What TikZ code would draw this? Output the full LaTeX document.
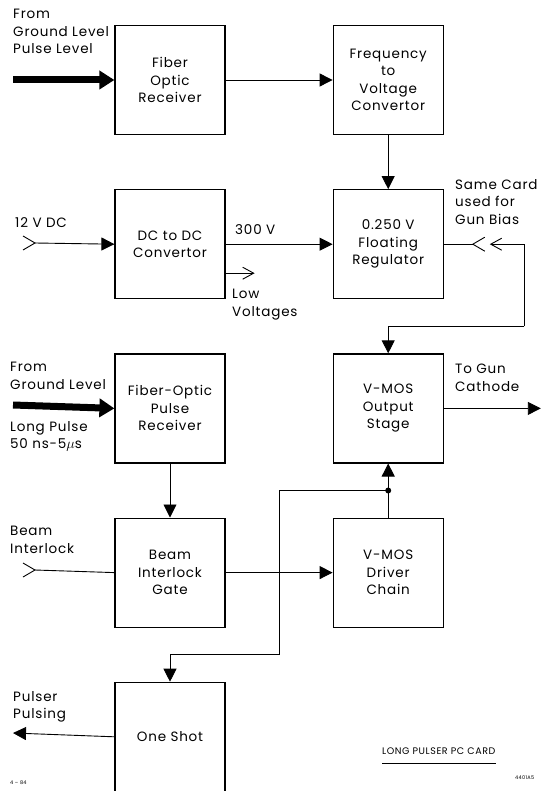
\documentclass[tikz,border=0pt]{standalone}
\usepackage{fontspec}
\setmainfont{Poppins}[LetterSpace=6]
\usetikzlibrary{arrows.meta, positioning, calc}

\tikzset{
    socket/.pic={\draw[line width=0.9pt, line join=miter] (12,-7) -- (0,0) -- (12,7);}
}

\begin{document}
\begin{tikzpicture}[
    x=1pt, y=-1pt,
    node distance=54pt and 107pt,
    font=\fontsize{13.5}{17.5}\selectfont,
    blk/.style={
        rectangle, draw, line width=1.2pt,
        minimum width=110pt, minimum height=109pt,
        align=center, inner sep=2pt
    },
    arr/.style={-{Triangle[length=13pt,width=13pt]}, line width=0.9pt},
    fat/.style={-{Triangle[length=15pt,width=18pt]}, line width=7pt},
    barb/.style={-{Straight Barb[length=11pt,width=12pt]}, line width=0.9pt},
    wire/.style={line width=0.9pt},
    lbl/.style={anchor=north west, align=left, inner sep=0pt},
]
\useasboundingbox (0,0) rectangle (546,791);

% left column
\node[blk] (fibrx) at (170,80) {Fiber\\Optic\\Receiver};
\node[blk, below=of fibrx] (dcdc) {DC to DC\\Convertor};
\node[blk, below=of dcdc] (fopr) {Fiber-Optic\\Pulse\\Receiver};
\node[blk, below=of fopr] (gate) {Beam\\Interlock\\Gate};
\node[blk, below=of gate] (oneshot) {One Shot};

% right column
\node[blk, right=of fibrx] (fvconv) {Frequency\\to\\Voltage\\Convertor};
\node[blk, right=of dcdc] (floatreg) {0.250 V\\Floating\\Regulator};
\node[blk, right=of fopr] (vmosout) {V-MOS\\Output\\Stage};
\node[blk, right=of gate] (driver) {V-MOS\\Driver\\Chain};

% free ends
\coordinate (pulsein) at (13,80);
\coordinate (dcin) at (35,243);
\coordinate (longin) at (13,405);
\coordinate (beamin) at (35,570);
\coordinate (pulsout) at (13,733);
\coordinate (lowv) at ($(dcdc.east)+(0,29)$);
\coordinate (sock) at ($(floatreg.east)+(29,0)$);
\coordinate (biasin) at ($(floatreg.east)+(46,0)$);
\coordinate (rail) at ($(floatreg.south)!0.5!(vmosout.north)+(136,0)$);
\coordinate (cathode) at ($(vmosout.east)+(97,0)$);
\coordinate (jn) at ($(vmosout.south)!0.5!(driver.north)$);
\coordinate (kink) at ($(gate.south east)!0.5!(driver.west |- oneshot.north)$);

% labels
\node[lbl] (lblpulse) at (13,9) {From\\Ground Level\\Pulse Level};
\node[lbl] (lbldc) at (15,217) {12 V DC};
\node[lbl] (lbl300) at (235,224) {300 V};
\node[lbl] (lbllow) at (232,289) {Low\\Voltages};
\node[lbl] (lblbias) at (455,179) {Same Card\\used for\\Gun Bias};
\node[lbl] (lblcath) at (455,364) {To Gun\\Cathode};
\node[lbl] (lblfrom) at (10,362) {From\\Ground Level};
\node[lbl] (lbllong) at (10,421) {Long Pulse\\50 ns-5$\mu$s};
\node[lbl] (lblbeam) at (10,526) {Beam\\Interlock};
\node[lbl] (lblpulser) at (13,691) {Pulser\\Pulsing};
\node[lbl, font=\fontsize{9.5}{12}\selectfont] (title) at (382,748) {LONG PULSER PC CARD};
\draw[wire] (title.south west) ++(0,8) coordinate (ul) -- (ul -| title.south east);
\node[lbl, font=\fontsize{5}{6}\selectfont] (figno) at (10,781) {4 -- 84};
\node[lbl, font=\fontsize{5}{6}\selectfont] (refno) at (515,776) {4401A5};

% top row
\draw[fat] (pulsein) -- (fibrx.west);
\draw[arr] (fibrx.east) -- (fvconv.west);
\draw[arr] (fvconv.south) -- (floatreg.north);

% power
\pic[rotate=180] at (dcin) {socket};
\draw[arr] (dcin) -- (dcdc.west);
\draw[arr] (dcdc.east) -- (floatreg.west);
\draw[barb] (lowv) -- ++(29,0);
\draw[wire] (floatreg.east) -- (sock);
\pic at (sock) {socket};
\draw[barb] (rail) |- (biasin);
\draw[arr] (rail) -| (vmosout.north);

% pulse path
\draw[fat] (longin) -- (fopr.west);
\draw[arr] (fopr.south) -- (gate.north);
\pic[rotate=180] at (beamin) {socket};
\draw[wire] (beamin) -- (gate.west);
\draw[arr] (gate.east) -- (driver.west);
\draw[wire] (driver.north) -- (jn);
\draw[arr] (jn) -- (vmosout.south);
\fill (jn) circle (3pt);
\draw[arr] (jn) -| (kink) -| (oneshot.north);
\draw[arr] (vmosout.east) -- (cathode);
\draw[arr] (oneshot.west) -- (pulsout);

\end{tikzpicture}
\end{document}
